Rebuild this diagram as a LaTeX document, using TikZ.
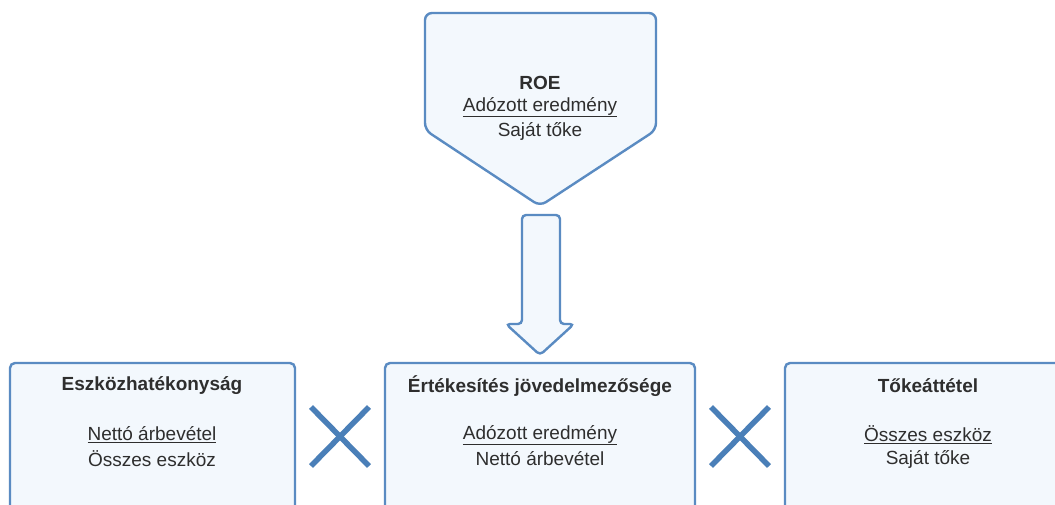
\documentclass[tikz,border=0pt]{standalone}
\usepackage{fontspec}
\setmainfont{Liberation Sans}
\definecolor{bordc}{HTML}{5A8BC2}
\definecolor{fillc}{HTML}{F3F8FD}
\definecolor{txtc}{HTML}{2E2E2E}
\definecolor{xc}{HTML}{4A7FB8}
\begin{document}
\begin{tikzpicture}[x=1pt,y=-1pt,
  shapeline/.style={draw=bordc,fill=fillc,line width=2.4pt,rounded corners=7pt},
  txt/.style={text=txtc,font=\fontsize{19}{24}\selectfont,align=center,inner sep=0pt},
  ttl/.style={txt,font=\fontsize{19}{24}\selectfont\bfseries},
  cross/.style={draw=xc,line width=5.5pt}]
\useasboundingbox (0,0) rectangle (1055,504);
\clip (0,0) rectangle (1055,504);
\fill[white] (0,0) rectangle (1055,504);
% top pentagon
\draw[shapeline] (425,13) -- (656,13) -- (656,130) -- (540,206) -- (425,130) -- cycle;
\node[ttl] (roe) at (540,83) {ROE};
\node[txt] (roe1) at (540,107) {\underline{Adózott eredmény}};
\node[txt] (roe2) at (540,131) {Saját tőke};
% arrow
\draw[shapeline,rounded corners=4pt] (522,215) -- (560,215) -- (560,324) -- (574,324) -- (540,355) -- (506,324) -- (522,324) -- cycle;
% bottom boxes
\draw[shapeline,rounded corners=5pt] (10,363) rectangle (295,530);
\draw[shapeline,rounded corners=5pt] (385,363) rectangle (695,530);
\draw[shapeline,rounded corners=5pt] (785,363) rectangle (1075,530);
\node[ttl] (b1t) at (152,386) {Eszközhatékonyság};
\node[txt] (b1a) at (152,435) {\underline{Nettó árbevétel}};
\node[txt] (b1b) at (152,459) {Összes eszköz};
\node[ttl] (b2t) at (540,386) {Értékesítés jövedelmezősége};
\node[txt] (b2a) at (540,435) {\underline{Adózott eredmény}};
\node[txt] (b2b) at (540,459) {Nettó árbevétel};
\node[ttl] (b3t) at (928,386) {Tőkeáttétel};
\node[txt] (b3a) at (928,435) {\underline{Összes eszköz}};
\node[txt] (b3b) at (928,459) {Saját tőke};
% crosses
\coordinate (x1a) at (311,407); \coordinate (x1b) at (369,466);
\coordinate (x1c) at (311,466); \coordinate (x1d) at (369,407);
\draw[cross] (x1a) -- (x1b); \draw[cross] (x1c) -- (x1d);
\coordinate (x2a) at (711,407); \coordinate (x2b) at (769,466);
\coordinate (x2c) at (711,466); \coordinate (x2d) at (769,407);
\draw[cross] (x2a) -- (x2b); \draw[cross] (x2c) -- (x2d);
\end{tikzpicture}
\end{document}
